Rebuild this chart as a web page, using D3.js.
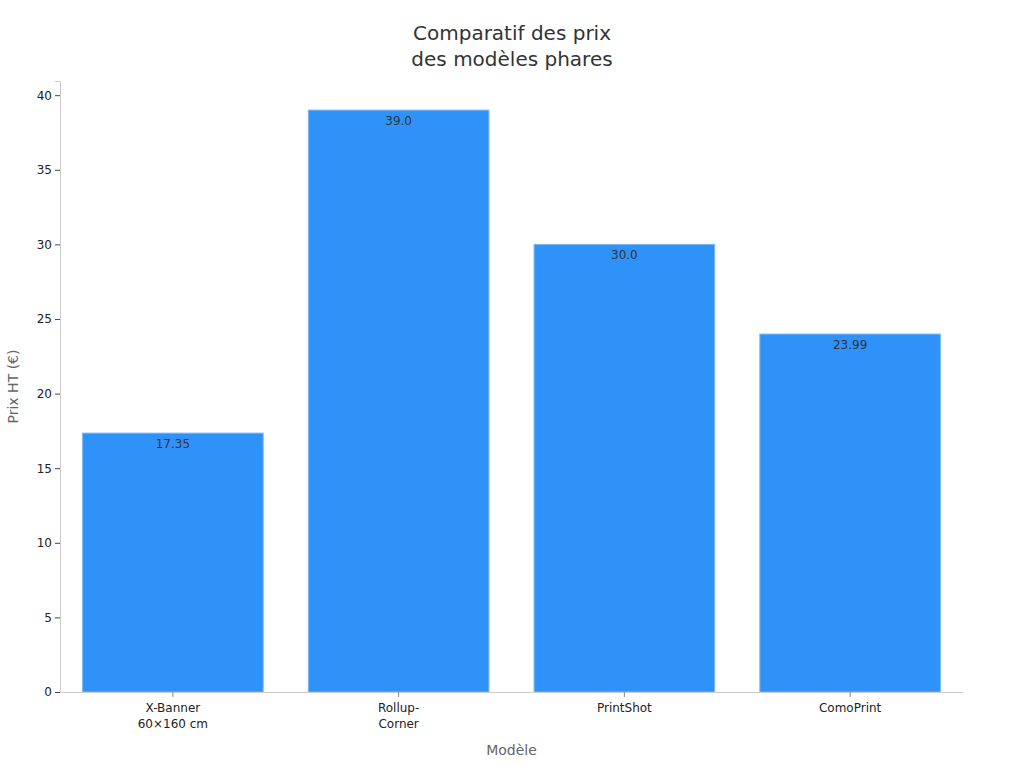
<!DOCTYPE html>
<html lang="fr">
<head>
  <meta charset="UTF-8">
  <title>Comparatif des prix</title>
  <script src="https://d3js.org/d3.v7.min.js"></script>
  <style>
    * { margin: 0; padding: 0; box-sizing: border-box; }
    body { background: #fff; }
    svg text { font-family: 'DejaVu Sans', sans-serif; }
    .tick text { font-size: 12px; fill: #222; }
    .bar-label { font-size: 12px; fill: #333; text-anchor: middle; }
  </style>
</head>
<body>
  <svg id="chart"></svg>
  <script>
    const models = [["X-Banner", "60×160 cm"], ["Rollup-", "Corner"], ["PrintShot"], ["ComoPrint"]];
    const prices = [17.35, 39.0, 30.0, 23.99];
    const priceLabels = ["17.35", "39.0", "30.0", "23.99"];
    const yTicks = [0, 5, 10, 15, 20, 25, 30, 35, 40];

    const width = 1024, height = 768;
    const margin = { top: 81, right: 61, bottom: 76, left: 60 };

    const svg = d3.select("#chart").attr("width", width).attr("height", height);

    const keys = models.map(d => d.join(" "));

    const x = d3.scaleBand()
      .domain(keys)
      .range([margin.left, width - margin.right])
      .paddingInner(0.2)
      .paddingOuter(0.1);

    const y = d3.scaleLinear()
      .domain([0, d3.max(prices) * 1.05])
      .range([height - margin.bottom, margin.top]);

    // title
    const title = svg.append("text")
      .attr("text-anchor", "middle")
      .style("font-size", "20px")
      .style("fill", "#333");
    title.append("tspan").attr("x", width / 2).attr("y", 40).text("Comparatif des prix");
    title.append("tspan").attr("x", width / 2).attr("y", 66).text("des modèles phares");

    // bars
    svg.selectAll(".bar")
      .data(prices)
      .enter().append("rect")
      .attr("class", "bar")
      .attr("x", (d, i) => x(keys[i]))
      .attr("y", d => y(d))
      .attr("width", x.bandwidth())
      .attr("height", d => y(0) - y(d))
      .attr("fill", "#2f92f8")
      .attr("stroke", "#7ab8f7")
      .attr("stroke-width", 1);

    svg.selectAll(".bar-label")
      .data(prices)
      .enter().append("text")
      .attr("class", "bar-label")
      .attr("x", (d, i) => x(keys[i]) + x.bandwidth() / 2)
      .attr("y", d => y(d) + 15)
      .text((d, i) => priceLabels[i]);

    // y axis
    const yAxis = svg.append("g")
      .attr("transform", `translate(${margin.left},0)`)
      .call(d3.axisLeft(y).tickValues(yTicks).tickSize(5).tickPadding(3));
    yAxis.attr("font-family", null);
    yAxis.select(".domain").attr("stroke", "#ccc");
    yAxis.selectAll(".tick line").attr("stroke", "#444");

    // x axis
    const xAxis = svg.append("g")
      .attr("transform", `translate(0,${height - margin.bottom})`)
      .call(d3.axisBottom(x).tickSize(5).tickFormat(""));
    xAxis.attr("font-family", null);
    xAxis.select(".domain").attr("stroke", "#ccc").attr("d", `M${margin.left},0.5H${width - margin.right}`);
    xAxis.selectAll(".tick line").attr("stroke", "#888");
    xAxis.selectAll(".tick text").remove();
    xAxis.selectAll(".tick").each(function(d, i) {
      const t = d3.select(this).append("text")
        .attr("fill", "#222")
        .attr("text-anchor", "middle");
      models[i].forEach((line, j) => {
        t.append("tspan").attr("x", 0).attr("y", 20 + j * 16).text(line);
      });
    });

    // axis titles
    svg.append("text")
      .attr("x", (margin.left + width - margin.right) / 2)
      .attr("y", 755)
      .attr("text-anchor", "middle")
      .style("font-size", "14px")
      .style("fill", "#666")
      .text("Modèle");

    svg.append("text")
      .attr("transform", `translate(18,${(margin.top + height - margin.bottom) / 2}) rotate(-90)`)
      .attr("text-anchor", "middle")
      .style("font-size", "14px")
      .style("fill", "#666")
      .text("Prix HT (€)");
  </script>
</body>
</html>
